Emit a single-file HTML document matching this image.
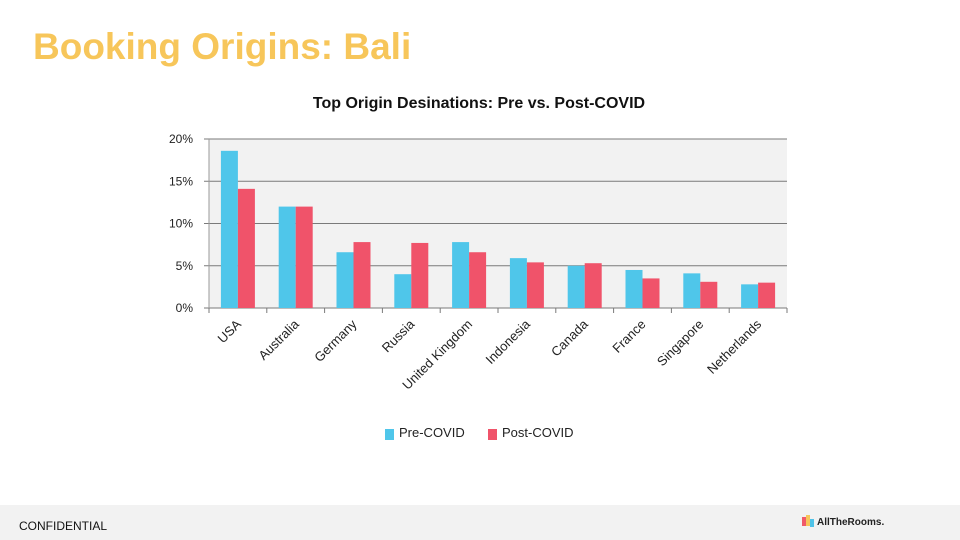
<!DOCTYPE html>
<html><head><meta charset="utf-8"><style>
body{margin:0;width:960px;height:540px;background:#fff;position:relative;overflow:hidden;font-family:"Liberation Sans",sans-serif}
#title{position:absolute;left:33px;top:26px;font-size:37px;font-weight:bold;color:#f7c65a;margin:0}
#footer{position:absolute;left:0;top:505px;width:960px;height:35px;background:#f2f2f2}
#conf{position:absolute;left:19px;top:14px;font-size:12px;color:#111}
#logo{position:absolute;left:802px;top:10px;font-size:10px;font-weight:bold;color:#222}
</style></head><body>
<h1 id="title">Booking Origins: Bali</h1>
<svg id="chart" width="960" height="500" style="position:absolute;left:0;top:0" font-family="Liberation Sans, sans-serif"></svg>
<div id="footer">
<div id="conf">CONFIDENTIAL</div>
<div id="logo"><span style="display:inline-block;width:4px;height:9px;background:#f05a6a;vertical-align:-1px"></span><span style="display:inline-block;width:4px;height:11px;background:#f7c65a;vertical-align:-1px"></span><span style="display:inline-block;width:4px;height:8px;background:#4fc3e8;vertical-align:-2px;margin-right:3px"></span>AllTheRooms.</div>
</div>
<script>
const categories=["USA","Australia","Germany","Russia","United Kingdom","Indonesia","Canada","France","Singapore","Netherlands"];
const preCovid=[18.6,12.0,6.6,4.0,7.8,5.9,5.0,4.5,4.1,2.8];
const postCovid=[14.1,12.0,7.8,7.7,6.6,5.4,5.3,3.5,3.1,3.0];
const yTicks=[0,5,10,15,20];
const svg=document.getElementById('chart');
const NS='http://www.w3.org/2000/svg';
const x0=209,x1=787,yTop=139,yBot=308,yMax=20;
const y=v=>yBot-(v/yMax)*(yBot-yTop);
const bw=(x1-x0)/categories.length;
function mk(t,a,p){const e=document.createElementNS(NS,t);for(const k in a)e.setAttribute(k,a[k]);(p||svg).appendChild(e);return e;}
let e=mk('rect',{x:x0,y:yTop,width:x1-x0,height:yBot-yTop,fill:'#f2f2f2'});


e=mk('text',{x:479,y:108,'text-anchor':'middle','font-size':16,'font-weight':'bold',fill:'#111'});e.textContent='Top Origin Desinations: Pre vs. Post-COVID';


yTicks.forEach(t=>{
 const g=mk('line',{x1:x0-5,x2:x1,y1:y(t),y2:y(t),stroke:'#7a7a7a','stroke-width':1});
 
 
 const l=mk('text',{x:193,y:y(t)+4,'text-anchor':'end','font-size':12,fill:'#222'});l.textContent=t+'%';
 
 
});
mk('line',{x1:x0,x2:x0,y1:yTop,y2:yBot,stroke:'#9a9a9a'});
categories.forEach((c,i)=>{
 const cx=x0+bw*(i+0.5);
 mk('line',{x1:x0+bw*i,x2:x0+bw*i,y1:yBot,y2:yBot+5,stroke:'#7a7a7a'});
 const b1=mk('rect',{x:cx-17,y:y(preCovid[i]),width:17,height:yBot-y(preCovid[i]),fill:'#4fc6ea'});
 
 
 const b2=mk('rect',{x:cx,y:y(postCovid[i]),width:17,height:yBot-y(postCovid[i]),fill:'#f0536a'});
 
 
 const l=mk('text',{x:cx+4,y:yBot+17,'text-anchor':'end','font-size':13,fill:'#222',transform:`rotate(-45 ${cx+4} ${yBot+17})`});l.textContent=c;
 
 
});
mk('line',{x1:x1,x2:x1,y1:yBot,y2:yBot+5,stroke:'#7a7a7a'});
[['Pre-COVID','#4fc6ea',385],['Post-COVID','#f0536a',488]].forEach(([n,c,lx])=>{
 const r=mk('rect',{x:lx,y:429,width:9,height:11,fill:c});
 
 
 const t=mk('text',{x:lx+14,y:437,'font-size':13,fill:'#222'});t.textContent=n;
 
 
});
</script>
</body></html>
